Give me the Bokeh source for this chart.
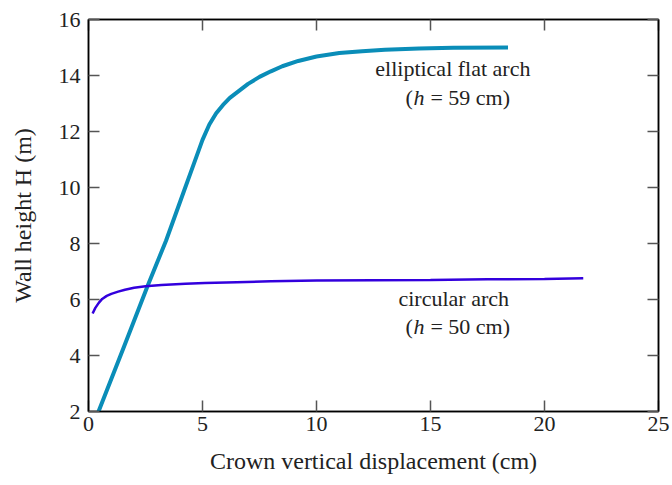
from bokeh.plotting import figure
from bokeh.models import FixedTicker, LinearAxis, Range1d, Label
from bokeh.embed import file_html
from bokeh.resources import INLINE

# Data
ell_x = [0.44, 1.5, 2.6, 3.4, 4.2, 4.6, 5.0, 5.3, 5.6, 5.9, 6.2, 6.6, 7.0, 7.5, 8.0, 8.5, 9.2, 10.0, 11.0, 12.0, 13.0, 14.5, 16.0, 18.4]
ell_y = [2.0, 4.2, 6.5, 8.1, 9.9, 10.8, 11.7, 12.25, 12.65, 12.95, 13.2, 13.45, 13.7, 13.95, 14.15, 14.33, 14.52, 14.68, 14.8, 14.87, 14.92, 14.96, 14.99, 15.0]
circ_x = [0.18, 0.3, 0.45, 0.6, 0.8, 1.0, 1.3, 1.6, 2.0, 2.5, 3.2, 4.25, 5.1, 6.5, 8.0, 10.0, 12.5, 15.0, 17.5, 20.0, 21.7]
circ_y = [5.5, 5.7, 5.88, 6.02, 6.13, 6.2, 6.28, 6.35, 6.42, 6.47, 6.52, 6.56, 6.59, 6.62, 6.65, 6.68, 6.69, 6.7, 6.72, 6.73, 6.76]
x_ticks = [0, 5, 10, 15, 20, 25]
y_ticks = [2, 4, 6, 8, 10, 12, 14, 16]

FONT = "Liberation Serif"

p = figure(width=672, height=485, output_backend="svg", toolbar_location=None,
           x_range=Range1d(0, 25), y_range=Range1d(2, 16),
           min_border_left=88, min_border_right=14, min_border_top=19, min_border_bottom=74)
p.grid.visible = False
p.outline_line_color = "black"
p.outline_line_width = 1.5
p.background_fill_color = "white"
p.border_fill_color = "white"

def style_axis(ax, labels=True):
    ax.axis_line_color = "black"
    ax.axis_line_width = 1.5
    ax.major_tick_in = 11
    ax.major_tick_out = 0
    ax.major_tick_line_color = "#555555"
    ax.major_tick_line_width = 1.5
    ax.minor_tick_line_color = None
    ax.major_label_text_font = FONT
    ax.major_label_text_font_size = "22px"
    ax.major_label_text_color = "#222222"
    ax.axis_label_text_font = FONT
    ax.axis_label_text_font_size = "24px"
    ax.axis_label_text_font_style = "normal"
    ax.axis_label_text_color = "#222222"
    if not labels:
        ax.major_label_text_font_size = "0px"
        ax.major_label_text_color = None

p.xaxis.ticker = FixedTicker(ticks=x_ticks)
p.yaxis.ticker = FixedTicker(ticks=y_ticks)
p.xaxis.axis_label = "Crown vertical displacement (cm)"
p.yaxis.axis_label = "Wall height H (m)"
p.xaxis.major_label_standoff = 5
p.yaxis.major_label_standoff = 8
p.xaxis.axis_label_standoff = 14
p.yaxis.axis_label_standoff = 20
style_axis(p.xaxis[0])
style_axis(p.yaxis[0])

ra = LinearAxis(ticker=FixedTicker(ticks=y_ticks))
style_axis(ra, labels=False)
p.add_layout(ra, "right")
ta = LinearAxis(ticker=FixedTicker(ticks=x_ticks))
style_axis(ta, labels=False)
p.add_layout(ta, "above")

p.line(ell_x, ell_y, line_color="#0A8DB8", line_width=4)
p.line(circ_x, circ_y, line_color="#3300DD", line_width=2.5)

def lab(x, y, text, style="normal", xo=0, align="left"):
    p.add_layout(Label(x=x, y=y, text=text, x_offset=xo, text_font=FONT,
                       text_font_size="22px", text_color="#222222",
                       text_font_style=style, text_align=align,
                       text_baseline="alphabetic"))

lab(15.98, 14.25, "elliptical flat arch", align="center")
lab(13.9, 13.21, "(")
lab(13.9, 13.21, "h", style="italic", xo=8)
lab(13.9, 13.21, "=\u00a059\u00a0cm)", xo=25)

lab(16.02, 6.03, "circular arch", align="center")
lab(13.9, 5.03, "(")
lab(13.9, 5.03, "h", style="italic", xo=8)
lab(13.9, 5.03, "=\u00a050\u00a0cm)", xo=25)

open("out.html", "w").write(file_html(p, INLINE))
